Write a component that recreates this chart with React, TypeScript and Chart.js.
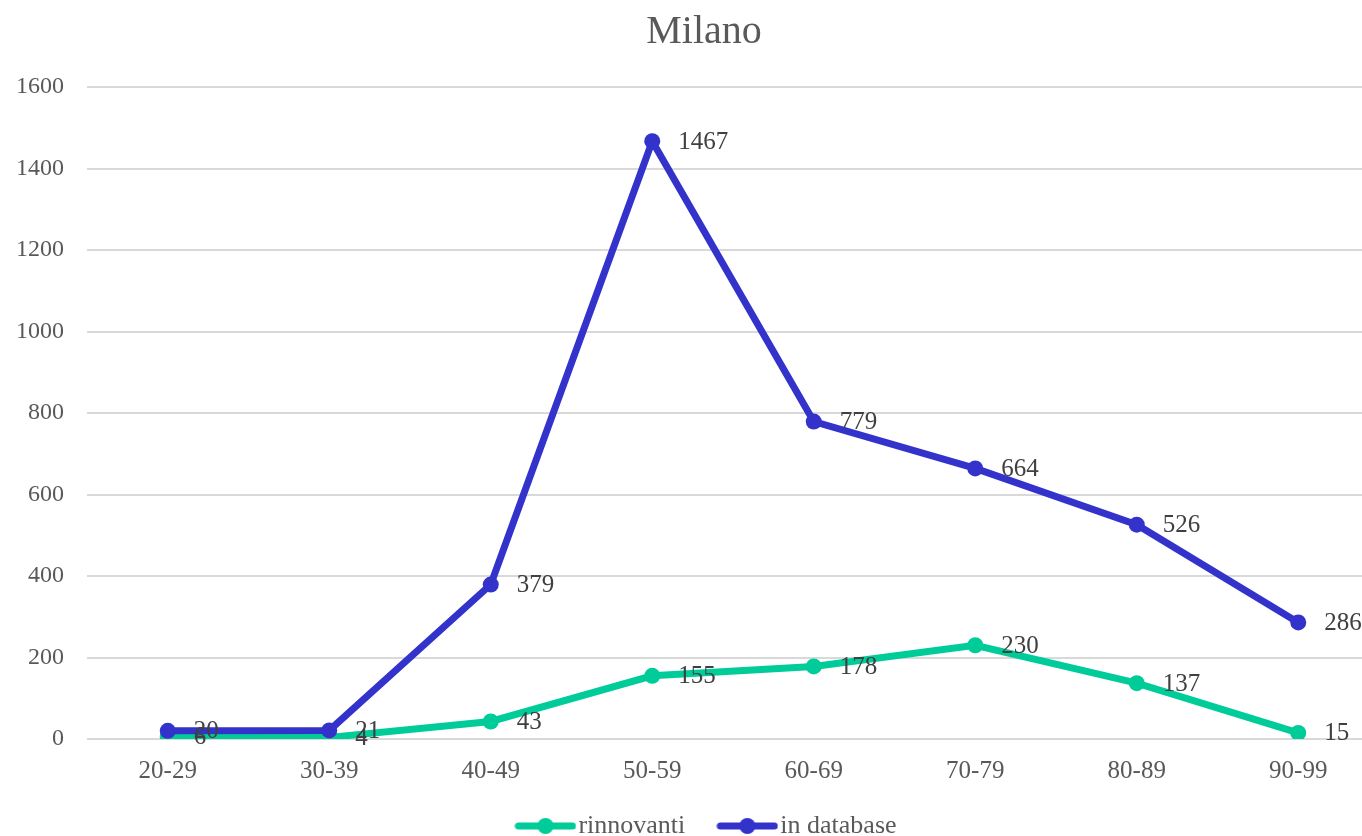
import React, { useEffect, useRef } from "react";
import { Chart, registerables } from "chart.js";

Chart.register(...registerables);

const categories = ["20-29", "30-39", "40-49", "50-59", "60-69", "70-79", "80-89", "90-99"];
const rinnovanti = [6, 4, 43, 155, 178, 230, 137, 15];
const inDatabase = [20, 21, 379, 1467, 779, 664, 526, 286];
const seriesNames = ["rinnovanti", "in database"];
const seriesColors = ["#00CC99", "#3333CC"];
const yMin = 0;
const yMax = 1600;
const yStep = 200;

const FONT = "'Liberation Serif', 'Times New Roman', serif";

function legendMarker(color: string): HTMLCanvasElement {
  const c = document.createElement("canvas");
  c.width = 62;
  c.height = 18;
  const ctx = c.getContext("2d")!;
  ctx.strokeStyle = color;
  ctx.lineWidth = 7;
  ctx.lineCap = "round";
  ctx.beginPath();
  ctx.moveTo(4, 9);
  ctx.lineTo(58, 9);
  ctx.stroke();
  ctx.fillStyle = color;
  ctx.beginPath();
  ctx.arc(31, 9, 8, 0, Math.PI * 2);
  ctx.fill();
  return c;
}

const valueLabels = {
  id: "valueLabels",
  afterDatasetsDraw(chart: any) {
    const ctx = chart.ctx;
    ctx.save();
    ctx.font = `25px ${FONT}`;
    ctx.fillStyle = "#404040";
    ctx.textAlign = "left";
    ctx.textBaseline = "middle";
    chart.data.datasets.forEach((ds: any, i: number) => {
      const meta = chart.getDatasetMeta(i);
      meta.data.forEach((pt: any, j: number) => {
        ctx.fillText(String(ds.data[j]), pt.x + 26, pt.y + 1);
      });
    });
    ctx.restore();
  },
};

const legendShift = {
  id: "legendShift",
  afterLayout(chart: any) {
    const l = chart.legend;
    if (l) {
      l.top -= 24;
      l.bottom -= 24;
      l.left += 7;
      l.right += 7;
    }
  },
};

export default function App() {
  const ref = useRef<HTMLCanvasElement>(null);

  useEffect(() => {
    if (!ref.current) return;
    const markers = seriesColors.map(legendMarker);
    const chart = new Chart(ref.current, {
      type: "line",
      data: {
        labels: categories,
        datasets: [
          {
            label: seriesNames[0],
            data: rinnovanti,
            borderColor: seriesColors[0],
            backgroundColor: seriesColors[0],
            borderWidth: 7,
            pointRadius: 8,
            pointHoverRadius: 8,
            pointBorderWidth: 0,
            order: 1,
          },
          {
            label: seriesNames[1],
            data: inDatabase,
            borderColor: seriesColors[1],
            backgroundColor: seriesColors[1],
            borderWidth: 7,
            pointRadius: 8,
            pointHoverRadius: 8,
            pointBorderWidth: 0,
            order: 0,
          },
        ],
      },
      options: {
        responsive: false,
        animation: false,
        layout: { padding: 0 },
        plugins: {
          title: {
            display: true,
            text: "Milano",
            color: "#595959",
            font: { family: FONT, size: 40, weight: "normal" },
            padding: { top: 8, bottom: 31 },
          },
          legend: {
            position: "bottom",
            labels: {
              usePointStyle: true,
              pointStyleWidth: 40,
              boxHeight: 18,
              color: "#595959",
              font: { family: FONT, size: 26 },
              padding: 42,
              sort: (a: any, b: any) => a.datasetIndex - b.datasetIndex,
              generateLabels: (chart: any) => {
                const items = Chart.defaults.plugins.legend.labels.generateLabels(chart);
                items.forEach((it: any) => {
                  it.pointStyle = markers[it.datasetIndex];
                  it.lineWidth = 0;
                });
                return items;
              },
            },
          },
          tooltip: { enabled: false },
        },
        scales: {
          x: {
            offset: true,
            grid: { display: false },
            border: { display: false },
            ticks: {
              color: "#595959",
              font: { family: FONT, size: 25 },
              padding: 9,
            },
          },
          y: {
            min: yMin,
            max: yMax,
            ticks: {
              stepSize: yStep,
              color: "#595959",
              font: { family: FONT, size: 24 },
              padding: 23,
              callback: (v: any) => String(v),
            },
            grid: { color: "#d9d9d9", lineWidth: 2, drawTicks: false },
            border: { display: false },
            afterFit: (scale: any) => {
              scale.width = 87;
            },
          },
          yRight: {
            position: "right",
            display: true,
            grid: { display: false, drawTicks: false },
            border: { display: false },
            ticks: { display: false },
            afterFit: (scale: any) => {
              scale.width = 29;
            },
          },
        },
      },
      plugins: [valueLabels, legendShift],
    });
    return () => chart.destroy();
  }, []);

  return (
    <div
      style={{
        position: "fixed",
        left: 0,
        top: 0,
        width: 1362,
        height: 836,
        overflow: "hidden",
        background: "#fff",
      }}
    >
      <canvas ref={ref} width={1408} height={873} style={{ display: "block" }} />
    </div>
  );
}
